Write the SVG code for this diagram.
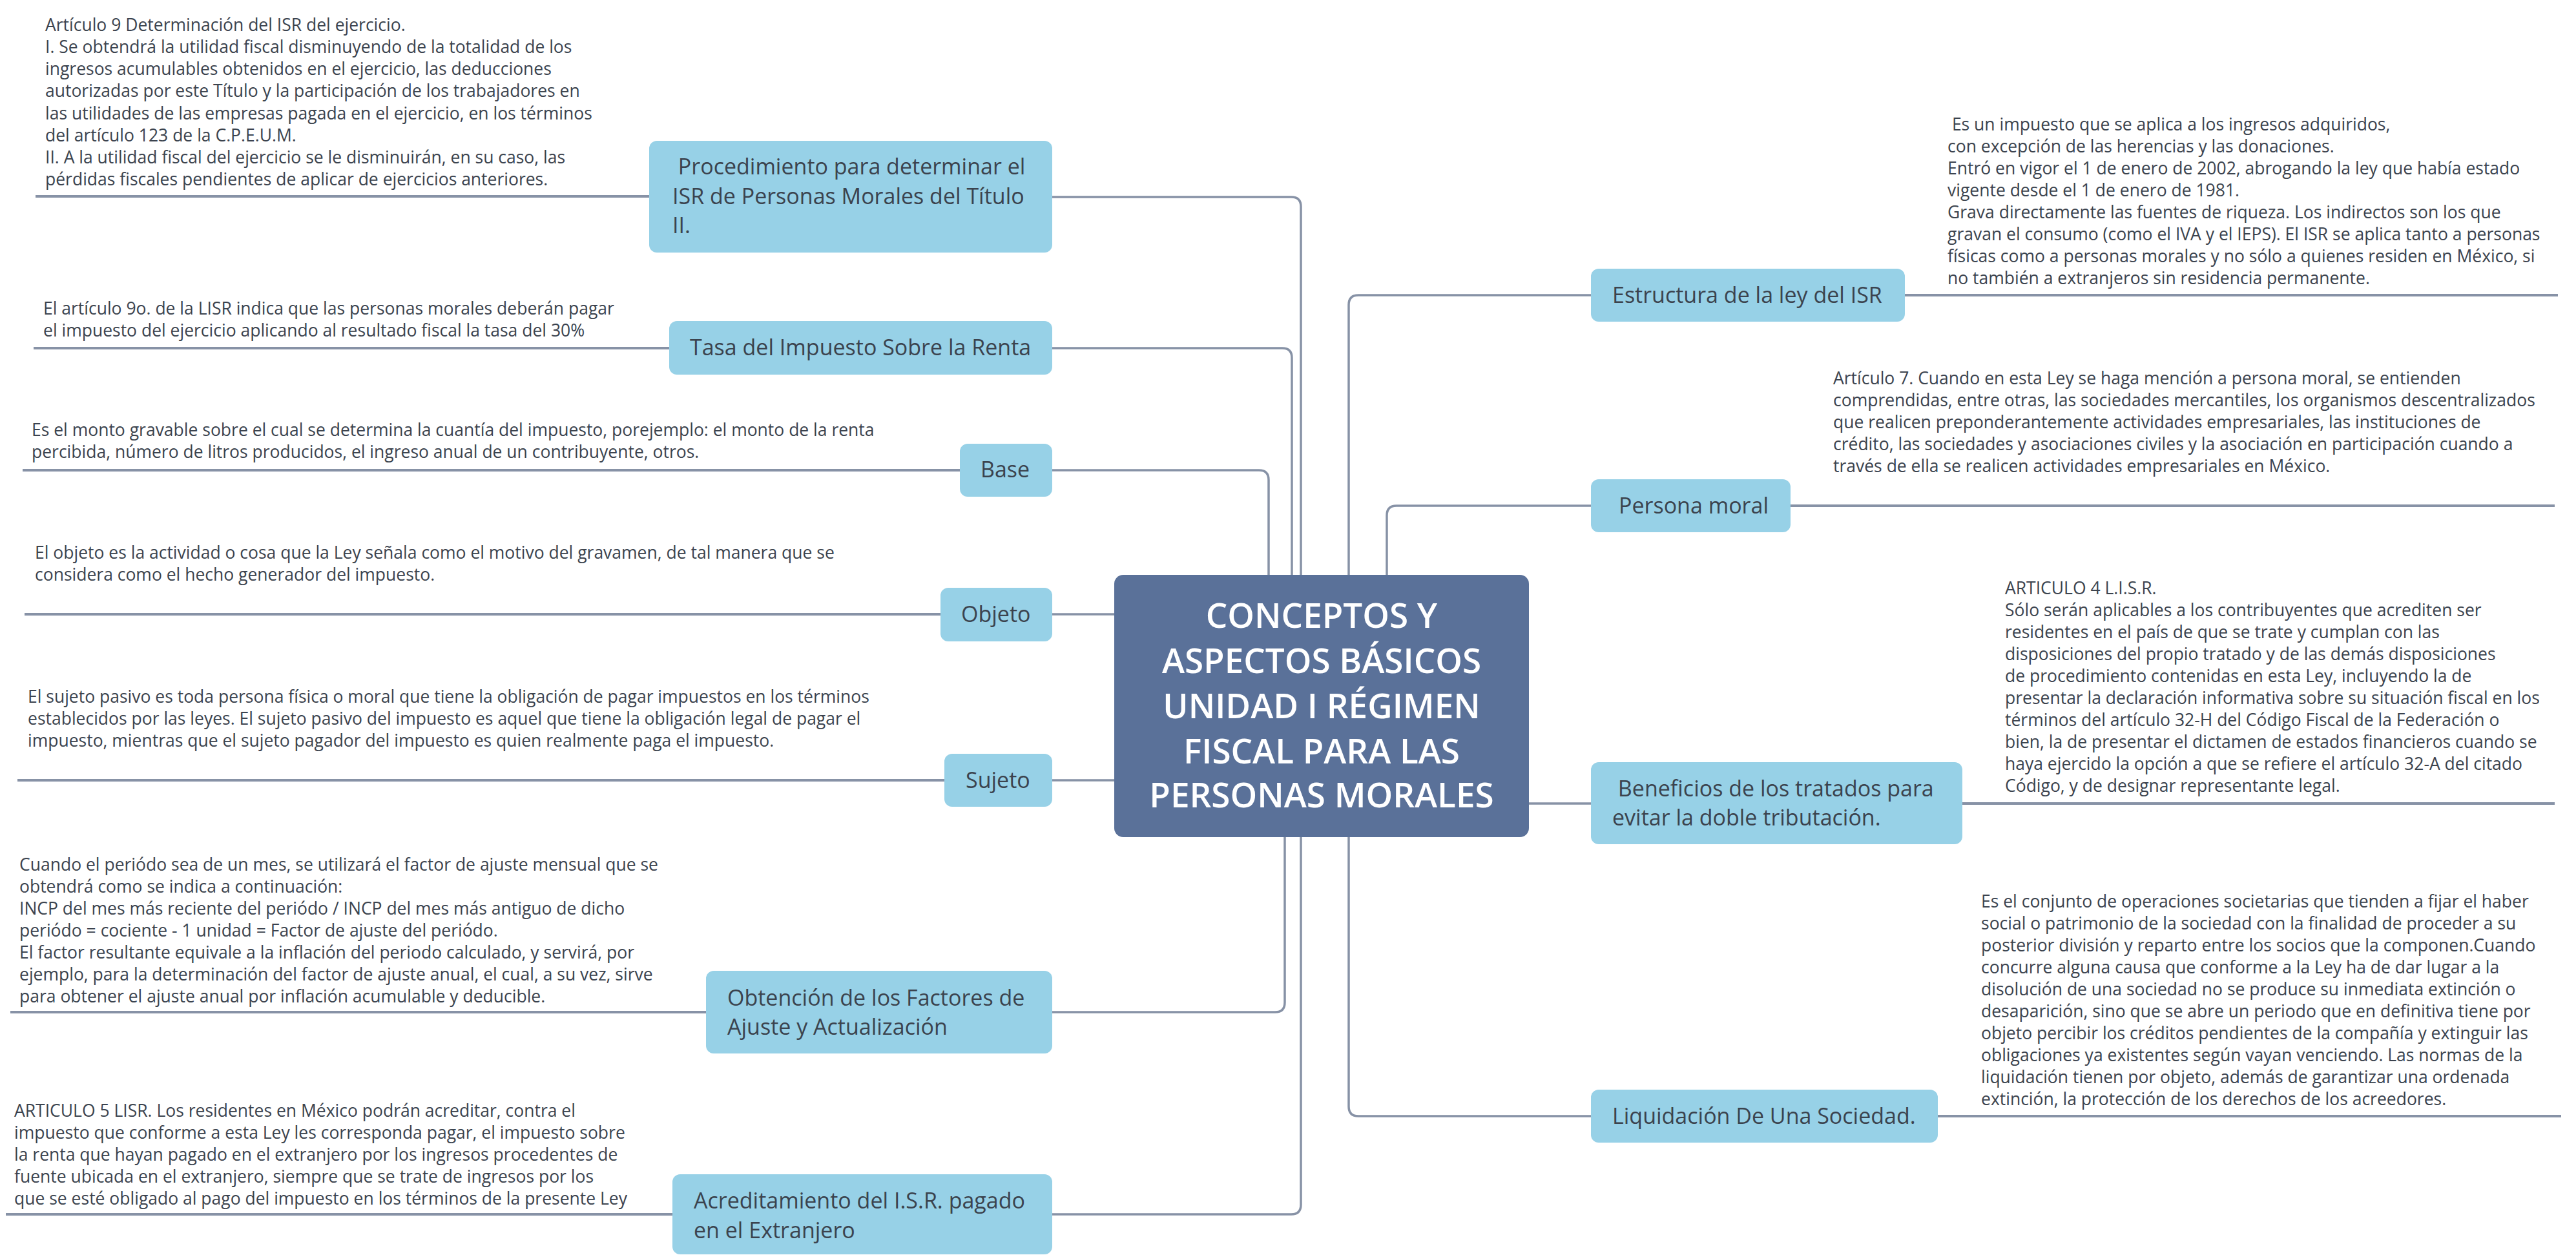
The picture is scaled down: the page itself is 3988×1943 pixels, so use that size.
<svg xmlns="http://www.w3.org/2000/svg" width="3988" height="1943" viewBox="0 0 3988 1943">
<style>
.bg{fill:#ffffff}
.topic{fill:#97d1e7}
.central{fill:#5a7199}
.lbl{font-family:"Open Sans","Liberation Sans",sans-serif;font-size:34px;fill:#3b434e}
.ctext{font-family:"Open Sans","Liberation Sans",sans-serif;font-size:53px;font-weight:600;fill:#ffffff;text-anchor:middle}
.note{font-family:"Open Sans","Liberation Sans",sans-serif;font-size:26.5px;fill:#3b434e}
.conn{stroke:#8792a6;stroke-width:3.5;fill:none}
.ul{stroke:#8792a6;stroke-width:4;fill:none}
</style>
<rect class="bg" x="0" y="0" width="3988" height="1943"/>

<g id="connectors">
<path class="conn" d="M1629,305 H1999 Q2014,305 2014,320 V890"/>
<path class="conn" d="M1629,539 H1985 Q2000,539 2000,554 V890"/>
<path class="conn" d="M1629,728 H1949 Q1964,728 1964,743 V890"/>
<path class="conn" d="M2463,457 H2103 Q2088,457 2088,472 V890"/>
<path class="conn" d="M2463,783 H2162 Q2147,783 2147,798 V890"/>
<path class="conn" d="M1629,951 H1725"/>
<path class="conn" d="M1629,1208 H1725"/>
<path class="conn" d="M1629,1567 H1974 Q1989,1567 1989,1552 V1296"/>
<path class="conn" d="M1629,1880 H1999 Q2014,1880 2014,1865 V1296"/>
<path class="conn" d="M2463,1728 H2103 Q2088,1728 2088,1713 V1296"/>
<path class="conn" d="M2367,1244 H2463"/>
<path class="ul" d="M55,304 H1005"/>
<path class="ul" d="M52,539 H1036"/>
<path class="ul" d="M35,728 H1486"/>
<path class="ul" d="M38,951 H1456"/>
<path class="ul" d="M27,1208 H1462"/>
<path class="ul" d="M16,1567 H1093"/>
<path class="ul" d="M9,1880 H1041"/>
<path class="ul" d="M2949,457 H3960"/>
<path class="ul" d="M2772,783 H3955"/>
<path class="ul" d="M3038,1244 H3955"/>
<path class="ul" d="M3000,1728 H3965"/>
</g>

<g id="central">
<rect class="central" x="1725" y="890" width="642" height="406" rx="14"/>
<text class="ctext" x="2046" y="972">CONCEPTOS Y</text>
<text class="ctext" x="2046" y="1042">ASPECTOS BÁSICOS</text>
<text class="ctext" x="2046" y="1112">UNIDAD I RÉGIMEN</text>
<text class="ctext" x="2046" y="1182">FISCAL PARA LAS</text>
<text class="ctext" x="2046" y="1250">PERSONAS MORALES</text>
</g>

<g id="procedimiento">
<rect class="topic" x="1005" y="218" width="624" height="173" rx="12"/>
<text class="lbl" xml:space="preserve"><tspan x="1041" y="270"> Procedimiento para determinar el</tspan><tspan x="1041" y="316">ISR de Personas Morales del Título</tspan><tspan x="1041" y="361">II.</tspan></text>
<text class="note"><tspan x="70" y="48">Artículo 9 Determinación del ISR del ejercicio.</tspan><tspan x="70" y="82">I. Se obtendrá la utilidad fiscal disminuyendo de la totalidad de los</tspan><tspan x="70" y="116">ingresos acumulables obtenidos en el ejercicio, las deducciones</tspan><tspan x="70" y="150">autorizadas por este Título y la participación de los trabajadores en</tspan><tspan x="70" y="185">las utilidades de las empresas pagada en el ejercicio, en los términos</tspan><tspan x="70" y="219">del artículo 123 de la C.P.E.U.M.</tspan><tspan x="70" y="253">II. A la utilidad fiscal del ejercicio se le disminuirán, en su caso, las</tspan><tspan x="70" y="287">pérdidas fiscales pendientes de aplicar de ejercicios anteriores.</tspan></text>
</g>

<g id="tasa">
<rect class="topic" x="1036" y="497" width="593" height="83" rx="12"/>
<text class="lbl" x="1068" y="550">Tasa del Impuesto Sobre la Renta</text>
<text class="note"><tspan x="67" y="487">El artículo 9o. de la LISR indica que las personas morales deberán pagar</tspan><tspan x="67" y="521">el impuesto del ejercicio aplicando al resultado fiscal la tasa del 30%</tspan></text>
</g>

<g id="base">
<rect class="topic" x="1486" y="687" width="143" height="82" rx="12"/>
<text class="lbl" x="1518" y="739">Base</text>
<text class="note"><tspan x="49" y="675">Es el monto gravable sobre el cual se determina la cuantía del impuesto, porejemplo: el monto de la renta</tspan><tspan x="49" y="709">percibida, número de litros producidos, el ingreso anual de un contribuyente, otros.</tspan></text>
</g>

<g id="objeto">
<rect class="topic" x="1456" y="910" width="173" height="83" rx="12"/>
<text class="lbl" x="1488" y="963">Objeto</text>
<text class="note"><tspan x="54" y="865">El objeto es la actividad o cosa que la Ley señala como el motivo del gravamen, de tal manera que se</tspan><tspan x="54" y="899">considera como el hecho generador del impuesto.</tspan></text>
</g>

<g id="sujeto">
<rect class="topic" x="1462" y="1167" width="167" height="82" rx="12"/>
<text class="lbl" x="1495" y="1220">Sujeto</text>
<text class="note"><tspan x="43" y="1088">El sujeto pasivo es toda persona física o moral que tiene la obligación de pagar impuestos en los términos</tspan><tspan x="43" y="1122">establecidos por las leyes. El sujeto pasivo del impuesto es aquel que tiene la obligación legal de pagar el</tspan><tspan x="43" y="1156">impuesto, mientras que el sujeto pagador del impuesto es quien realmente paga el impuesto.</tspan></text>
</g>

<g id="obtencion">
<rect class="topic" x="1093" y="1503" width="536" height="128" rx="12"/>
<text class="lbl"><tspan x="1126" y="1557">Obtención de los Factores de</tspan><tspan x="1126" y="1602">Ajuste y Actualización</tspan></text>
<text class="note"><tspan x="30" y="1348">Cuando el periódo sea de un mes, se utilizará el factor de ajuste mensual que se</tspan><tspan x="30" y="1382">obtendrá como se indica a continuación:</tspan><tspan x="30" y="1416">INCP del mes más reciente del periódo / INCP del mes más antiguo de dicho</tspan><tspan x="30" y="1450">periódo = cociente - 1 unidad = Factor de ajuste del periódo.</tspan><tspan x="30" y="1484">El factor resultante equivale a la inflación del periodo calculado, y servirá, por</tspan><tspan x="30" y="1518">ejemplo, para la determinación del factor de ajuste anual, el cual, a su vez, sirve</tspan><tspan x="30" y="1552">para obtener el ajuste anual por inflación acumulable y deducible.</tspan></text>
</g>

<g id="acreditamiento">
<rect class="topic" x="1041" y="1818" width="588" height="124" rx="12"/>
<text class="lbl"><tspan x="1074" y="1871">Acreditamiento del I.S.R. pagado</tspan><tspan x="1074" y="1917">en el Extranjero</tspan></text>
<text class="note"><tspan x="22" y="1729">ARTICULO 5 LISR. Los residentes en México podrán acreditar, contra el</tspan><tspan x="22" y="1763">impuesto que conforme a esta Ley les corresponda pagar, el impuesto sobre</tspan><tspan x="22" y="1797">la renta que hayan pagado en el extranjero por los ingresos procedentes de</tspan><tspan x="22" y="1831">fuente ubicada en el extranjero, siempre que se trate de ingresos por los</tspan><tspan x="22" y="1865">que se esté obligado al pago del impuesto en los términos de la presente Ley</tspan></text>
</g>

<g id="estructura">
<rect class="topic" x="2463" y="416" width="486" height="82" rx="12"/>
<text class="lbl" x="2496" y="469">Estructura de la ley del ISR</text>
<text class="note" xml:space="preserve"><tspan x="3015" y="202"> Es un impuesto que se aplica a los ingresos adquiridos,</tspan><tspan x="3015" y="236">con excepción de las herencias y las donaciones.</tspan><tspan x="3015" y="270">Entró en vigor el 1 de enero de 2002, abrogando la ley que había estado</tspan><tspan x="3015" y="304">vigente desde el 1 de enero de 1981.</tspan><tspan x="3015" y="338">Grava directamente las fuentes de riqueza. Los indirectos son los que</tspan><tspan x="3015" y="372">gravan el consumo (como el IVA y el IEPS). El ISR se aplica tanto a personas</tspan><tspan x="3015" y="406">físicas como a personas morales y no sólo a quienes residen en México, si</tspan><tspan x="3015" y="440">no también a extranjeros sin residencia permanente.</tspan></text>
</g>

<g id="persona-moral">
<rect class="topic" x="2463" y="742" width="309" height="82" rx="12"/>
<text class="lbl" x="2506" y="795">Persona moral</text>
<text class="note"><tspan x="2838" y="595">Artículo 7. Cuando en esta Ley se haga mención a persona moral, se entienden</tspan><tspan x="2838" y="629">comprendidas, entre otras, las sociedades mercantiles, los organismos descentralizados</tspan><tspan x="2838" y="663">que realicen preponderantemente actividades empresariales, las instituciones de</tspan><tspan x="2838" y="697">crédito, las sociedades y asociaciones civiles y la asociación en participación cuando a</tspan><tspan x="2838" y="731">través de ella se realicen actividades empresariales en México.</tspan></text>
</g>

<g id="beneficios">
<rect class="topic" x="2463" y="1180" width="575" height="127" rx="12"/>
<text class="lbl" xml:space="preserve"><tspan x="2496" y="1233"> Beneficios de los tratados para</tspan><tspan x="2496" y="1278">evitar la doble tributación.</tspan></text>
<text class="note"><tspan x="3104" y="920">ARTICULO 4 L.I.S.R.</tspan><tspan x="3104" y="954">Sólo serán aplicables a los contribuyentes que acrediten ser</tspan><tspan x="3104" y="988">residentes en el país de que se trate y cumplan con las</tspan><tspan x="3104" y="1022">disposiciones del propio tratado y de las demás disposiciones</tspan><tspan x="3104" y="1056">de procedimiento contenidas en esta Ley, incluyendo la de</tspan><tspan x="3104" y="1090">presentar la declaración informativa sobre su situación fiscal en los</tspan><tspan x="3104" y="1124">términos del artículo 32-H del Código Fiscal de la Federación o</tspan><tspan x="3104" y="1158">bien, la de presentar el dictamen de estados financieros cuando se</tspan><tspan x="3104" y="1192">haya ejercido la opción a que se refiere el artículo 32-A del citado</tspan><tspan x="3104" y="1226">Código, y de designar representante legal.</tspan></text>
</g>

<g id="liquidacion">
<rect class="topic" x="2463" y="1687" width="537" height="82" rx="12"/>
<text class="lbl" x="2496" y="1740">Liquidación De Una Sociedad.</text>
<text class="note"><tspan x="3067" y="1405">Es el conjunto de operaciones societarias que tienden a fijar el haber</tspan><tspan x="3067" y="1439">social o patrimonio de la sociedad con la finalidad de proceder a su</tspan><tspan x="3067" y="1473">posterior división y reparto entre los socios que la componen.Cuando</tspan><tspan x="3067" y="1507">concurre alguna causa que conforme a la Ley ha de dar lugar a la</tspan><tspan x="3067" y="1541">disolución de una sociedad no se produce su inmediata extinción o</tspan><tspan x="3067" y="1575">desaparición, sino que se abre un periodo que en definitiva tiene por</tspan><tspan x="3067" y="1609">objeto percibir los créditos pendientes de la compañía y extinguir las</tspan><tspan x="3067" y="1643">obligaciones ya existentes según vayan venciendo. Las normas de la</tspan><tspan x="3067" y="1677">liquidación tienen por objeto, además de garantizar una ordenada</tspan><tspan x="3067" y="1711">extinción, la protección de los derechos de los acreedores.</tspan></text>
</g>
</svg>
